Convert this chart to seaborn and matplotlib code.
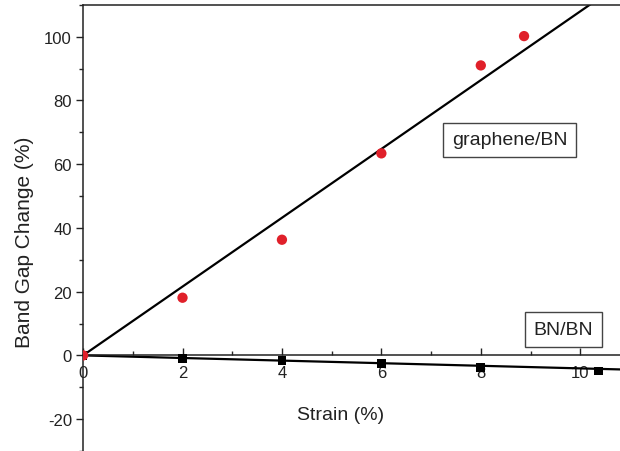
import matplotlib
matplotlib.use("Agg")
import matplotlib.pyplot as plt
import seaborn as sns
from matplotlib.ticker import MultipleLocator

# =====================================
# Data
# =====================================

strain_gbn = [0, 2, 4, 6, 8, 8.87]
change_gbn = [0, 18.1, 36.3, 63.4, 91.0, 100.2]

strain_bnbn = [0, 2, 4, 6, 8, 10.37]
change_bnbn = [0, -0.9, -1.7, -2.5, -3.9, -4.9]

# linear fit lines
fit_x = [0, 10.8]
fit_gbn = [0, 116.6]
fit_bnbn = [0, -4.4]

x_ticks = [0, 2, 4, 6, 8, 10]
y_ticks = [-20, 0, 20, 40, 60, 80, 100]

# =====================================
# Style
# =====================================

sns.set_style("ticks")
plt.rcParams["font.family"] = ["Liberation Sans", "DejaVu Sans"]
plt.rcParams["axes.unicode_minus"] = False

fig = plt.figure(figsize=(6.2, 4.52), dpi=100)
ax = fig.add_axes([0.134, 0.0, 0.866, 0.987])

# =====================================
# Plot
# =====================================

sns.lineplot(x=fit_x, y=fit_gbn, ax=ax, color="black", linewidth=1.6)
sns.lineplot(x=fit_x, y=fit_bnbn, ax=ax, color="black", linewidth=1.6)

sns.scatterplot(x=strain_bnbn, y=change_bnbn, ax=ax, marker="s",
                color="black", s=40, edgecolor="none", zorder=3)
sns.scatterplot(x=strain_gbn, y=change_gbn, ax=ax, marker="o",
                color="#e0202a", s=55, edgecolor="none", zorder=4)

ax.set_xlim(0, 10.8)
ax.set_ylim(-30, 110)

ax.set_xticks(x_ticks)
ax.set_yticks(y_ticks)
ax.xaxis.set_minor_locator(MultipleLocator(1))
ax.yaxis.set_minor_locator(MultipleLocator(10))

ax.spines["bottom"].set_position(("data", 0))
ax.spines["right"].set_visible(False)
for s in ["left", "bottom", "top"]:
    ax.spines[s].set_linewidth(1.1)
    ax.spines[s].set_color("#222222")

ax.tick_params(axis="x", which="major", direction="in", length=5, width=1,
               pad=7, labelsize=12, colors="#222222")
ax.tick_params(axis="x", which="minor", direction="in", length=3, width=1)
ax.tick_params(axis="y", which="major", direction="out", length=5, width=1,
               pad=3, labelsize=12, colors="#222222")
ax.tick_params(axis="y", which="minor", direction="out", length=3, width=1)

ax.set_xlabel("Strain (%)", fontsize=14, color="#222222")
ax.set_ylabel("Band Gap Change (%)", fontsize=15, color="#222222")
ax.xaxis.set_label_coords(0.479, 0.10)
ax.yaxis.set_label_coords(-0.092, 0.469)

box = dict(boxstyle="square,pad=0.45", facecolor="white",
           edgecolor="#444444", linewidth=1)
ax.text(8.58, 67.6, "graphene/BN", fontsize=14, ha="center", va="center",
        bbox=box, color="#222222")
ax.text(9.66, 8.2, "BN/BN", fontsize=14, ha="center", va="center",
        bbox=box, color="#222222")

fig.savefig("out.png", dpi=100)
